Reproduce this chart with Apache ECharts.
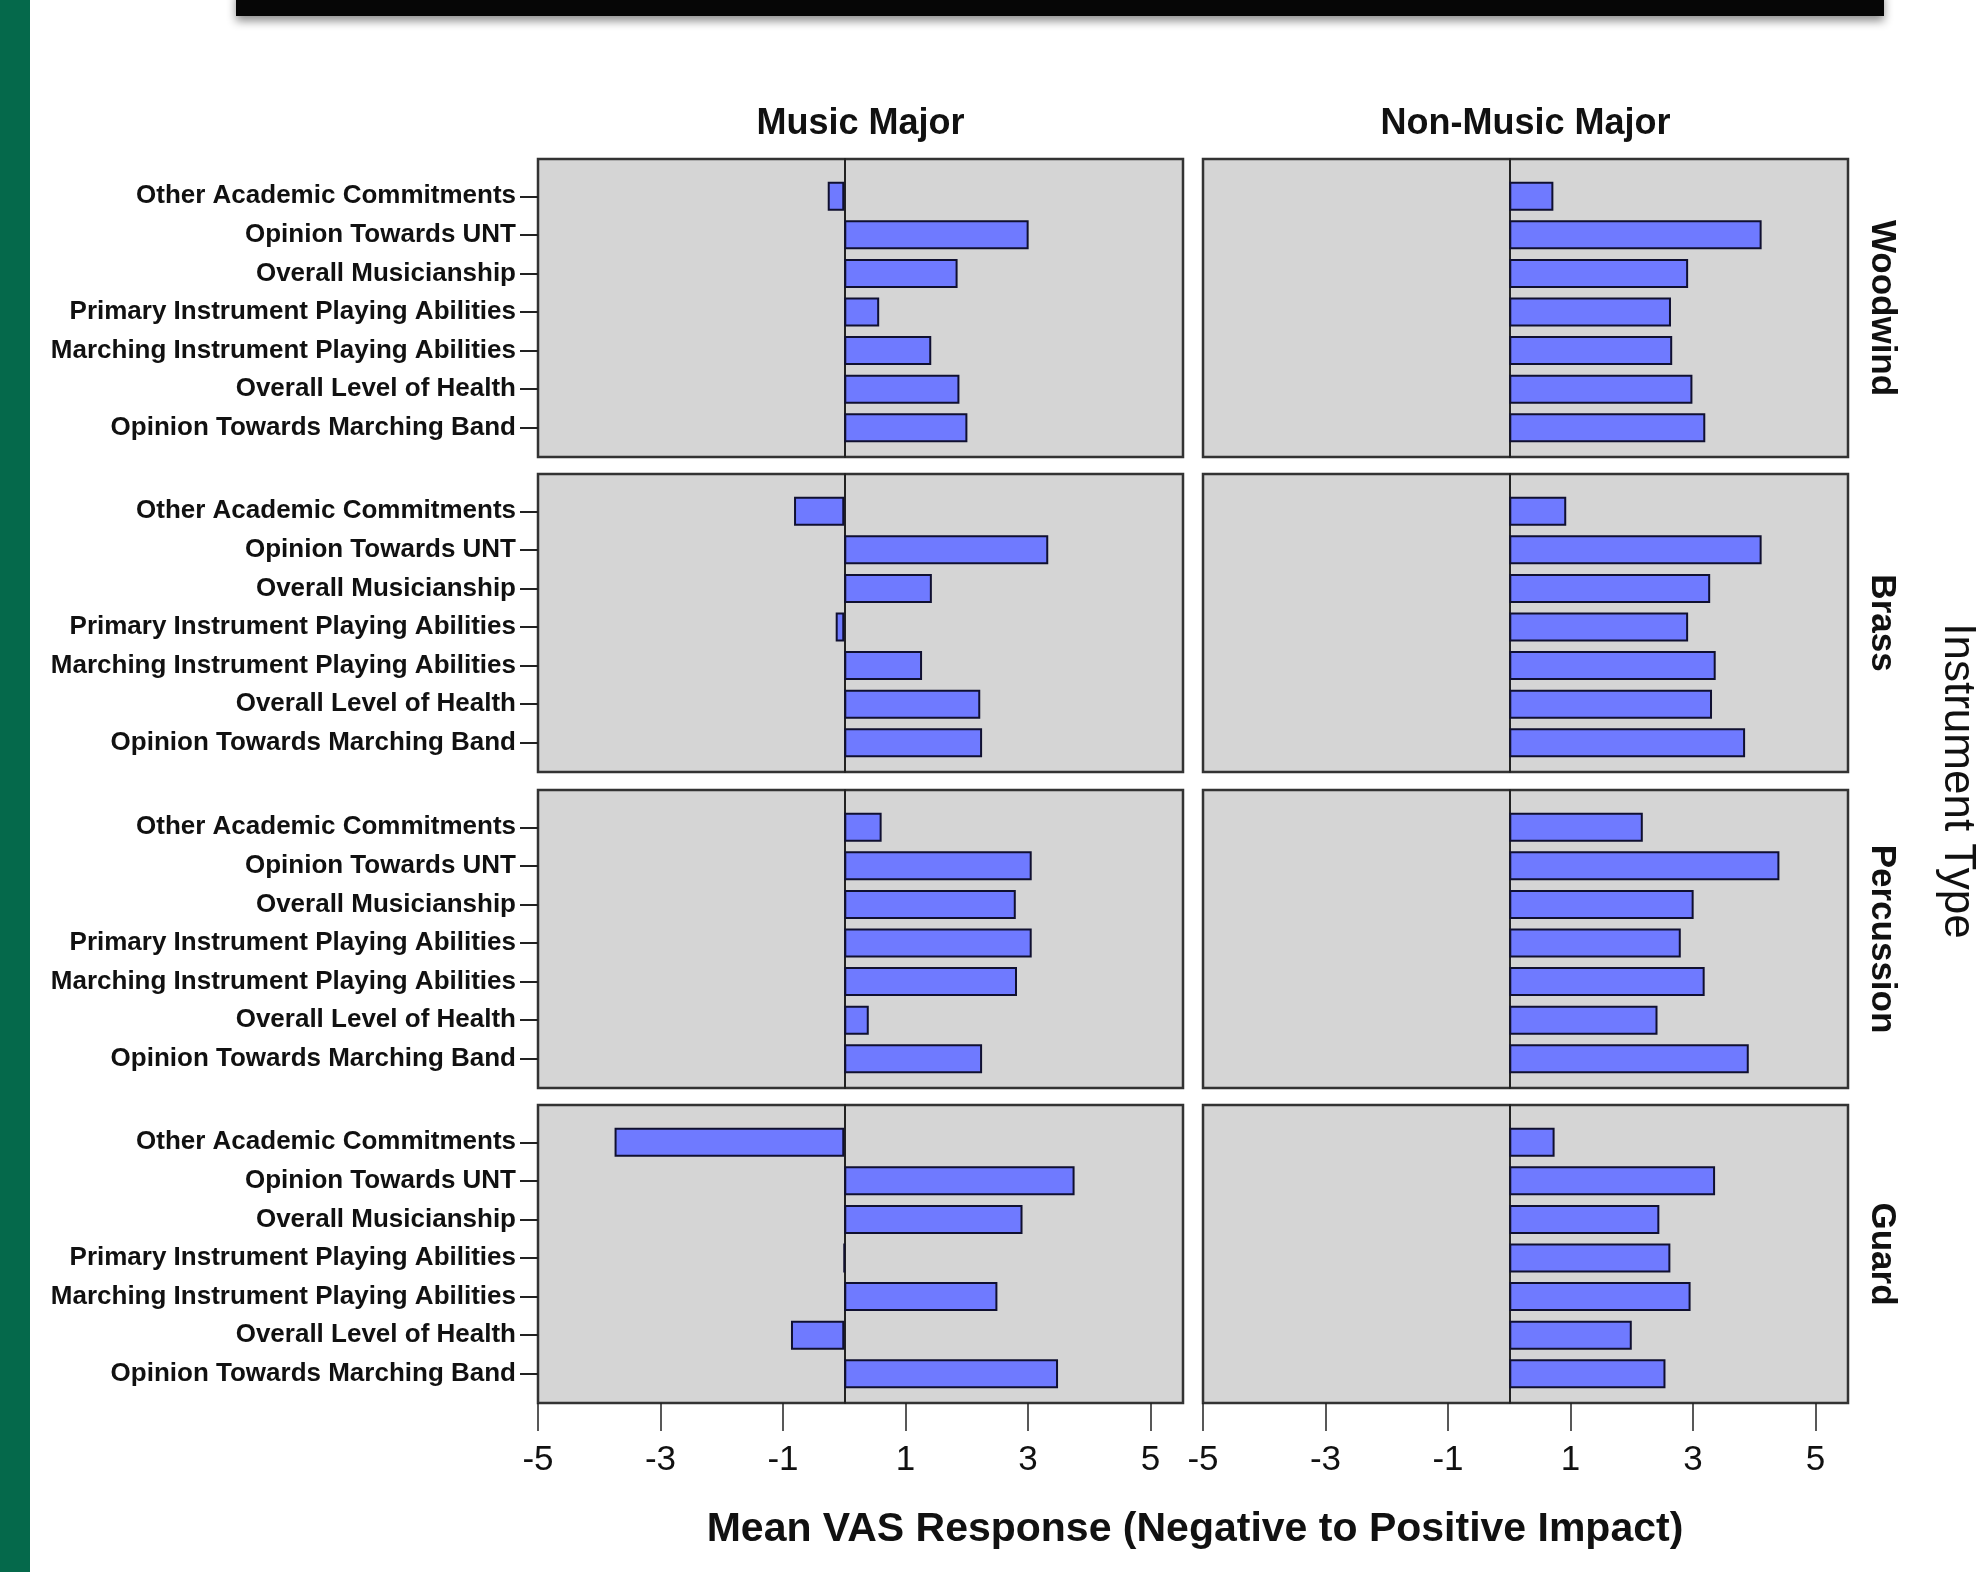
<!DOCTYPE html>
<html>
<head>
<meta charset="utf-8">
<title>Mean VAS Response</title>
<script src="https://cdn.jsdelivr.net/npm/echarts@6/dist/echarts.min.js"></script>
<style>
html, body { margin: 0; padding: 0; background: #fff; }
#main { width: 1982px; height: 1572px; }
</style>
</head>
<body>
<div id="main"></div>
<script>
var categories = ['Other Academic Commitments', 'Opinion Towards UNT', 'Overall Musicianship',
	'Primary Instrument Playing Abilities', 'Marching Instrument Playing Abilities',
	'Overall Level of Health', 'Opinion Towards Marching Band'];
var instruments = ['Woodwind', 'Brass', 'Percussion', 'Guard'];
var majors = ['Music Major', 'Non-Music Major'];
var xTicks = [-5, -3, -1, 1, 3, 5];

// mean VAS per category, same order as categories
var woodwindMusic = [-0.27, 3.01, 1.85, 0.57, 1.42, 1.88, 2.01];
var woodwindNonMusic = [0.72, 4.12, 2.92, 2.64, 2.66, 2.99, 3.20];
var brassMusic = [-0.82, 3.33, 1.43, -0.14, 1.27, 2.22, 2.25];
var brassNonMusic = [0.93, 4.12, 3.28, 2.92, 3.37, 3.31, 3.85];
var percussionMusic = [0.61, 3.06, 2.80, 3.06, 2.82, 0.40, 2.25];
var percussionNonMusic = [2.18, 4.41, 3.01, 2.80, 3.19, 2.42, 3.91];
var guardMusic = [-3.75, 3.76, 2.91, 0.0, 2.50, -0.87, 3.49];
var guardNonMusic = [0.74, 3.36, 2.45, 2.63, 2.96, 2.00, 2.55];

var panelData = [
	[woodwindMusic, woodwindNonMusic],
	[brassMusic, brassNonMusic],
	[percussionMusic, percussionNonMusic],
	[guardMusic, guardNonMusic]
];

var font = "'Liberation Sans', Arial, sans-serif";
var colLeft = [538, 1203];
var panelW = 645;
var panelH = 298;
var rowTop = [159, 474, 790, 1105];
var innerTop = 18, innerH = 270;
var xMin = -5, xMax = 5.53;

var grids = [], xAxes = [], yAxes = [], series = [], graphics = [];

for (var r = 0; r < instruments.length; r++) {
	for (var c = 0; c < majors.length; c++) {
		var isBottom = r === instruments.length - 1;
		var isLeft = c === 0;
		// outer grid: frame, zero line, x ticks
		var outer = grids.length;
		grids.push({
			left: colLeft[c], top: rowTop[r], width: panelW, height: panelH,
			containLabel: false, outerBoundsMode: 'none',
			show: true, backgroundColor: '#d5d5d5', borderColor: '#333', borderWidth: 2.5
		});
		xAxes.push({
			gridIndex: outer, type: 'value', min: xMin, max: xMax,
			axisLine: { show: false, onZero: false },
			splitLine: { show: false },
			axisTick: {
				show: isBottom, customValues: xTicks, length: 28,
				lineStyle: { color: '#222', width: 1.5 }
			},
			axisLabel: {
				show: isBottom, customValues: xTicks, margin: 40,
				fontFamily: font, fontSize: 35, color: '#111'
			}
		});
		yAxes.push({
			gridIndex: outer, type: 'value', min: 0, max: 1,
			axisLine: { show: true, onZero: true, lineStyle: { color: '#222', width: 2 } },
			axisTick: { show: false }, axisLabel: { show: false }, splitLine: { show: false }
		});
		// inner grid: the bars
		var inner = grids.length;
		grids.push({
			left: colLeft[c], top: rowTop[r] + innerTop, width: panelW, height: innerH,
			containLabel: false, outerBoundsMode: 'none'
		});
		xAxes.push({ gridIndex: inner, type: 'value', min: xMin, max: xMax, show: false });
		yAxes.push({
			gridIndex: inner, type: 'category', data: categories, inverse: true,
			axisLine: { show: false, onZero: false },
			axisTick: {
				show: isLeft, alignWithLabel: true, length: 18,
				lineStyle: { color: '#222', width: 2 }
			},
			axisLabel: {
				show: isLeft, margin: 22, fontFamily: font, fontWeight: 'bold',
				fontSize: 26, color: '#111'
			}
		});
		series.push({
			type: 'bar', name: instruments[r] + ' / ' + majors[c],
			xAxisIndex: xAxes.length - 1, yAxisIndex: yAxes.length - 1,
			data: panelData[r][c], barWidth: 29, silent: true,
			itemStyle: { color: '#6f7aff', borderColor: '#101030', borderWidth: 2 }
		});
	}
	// instrument strip label
	graphics.push({
		type: 'text', x: 1882, y: rowTop[r] + panelH / 2, rotation: -Math.PI / 2,
		style: {
			text: instruments[r], font: 'bold 35px ' + font,
			fill: '#111', align: 'center', verticalAlign: 'middle'
		}
	});
}

for (var m = 0; m < majors.length; m++) {
	graphics.push({
		type: 'text', x: colLeft[m] + panelW / 2, y: 124,
		style: {
			text: majors[m], font: 'bold 36px ' + font,
			fill: '#111', align: 'center', verticalAlign: 'middle'
		}
	});
}

graphics.push(
	{
		type: 'text', x: 1195, y: 1530,
		style: {
			text: 'Mean VAS Response (Negative to Positive Impact)', font: 'bold 41px ' + font,
			fill: '#111', align: 'center', verticalAlign: 'middle'
		}
	},
	{
		type: 'text', x: 1957, y: 781, rotation: -Math.PI / 2,
		style: {
			text: 'Instrument Type', font: '44px ' + font,
			fill: '#111', align: 'center', verticalAlign: 'middle'
		}
	},
	// slide decoration: green stripe and black header bar
	{ type: 'rect', shape: { x: 0, y: 0, width: 30, height: 1572 }, style: { fill: '#05694b' } },
	{
		type: 'rect', shape: { x: 236, y: -10, width: 1648, height: 26 },
		style: { fill: '#060606', shadowBlur: 10, shadowOffsetY: 5, shadowColor: 'rgba(0,0,0,0.45)' }
	}
);

var myChart = echarts.init(document.getElementById('main'), null, { renderer: 'canvas' });
myChart.setOption({
	animation: false,
	backgroundColor: '#ffffff',
	grid: grids,
	xAxis: xAxes,
	yAxis: yAxes,
	series: series,
	graphic: graphics
});
</script>
</body>
</html>
